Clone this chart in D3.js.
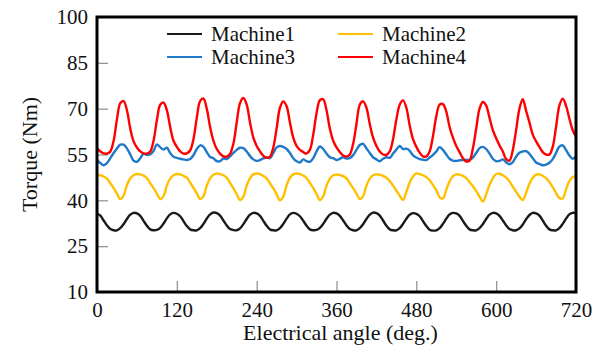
<!DOCTYPE html>
<html>
<head>
<meta charset="utf-8">
<script src="https://cdn.jsdelivr.net/npm/d3@7"></script>
<style>
  html, body { margin: 0; padding: 0; background: #fff; }
  svg { display: block; }
  text { font-family: "Liberation Serif", "Times New Roman", serif; fill: #111; }
</style>
</head>
<body>
<svg id="chart" width="594" height="348"></svg>
<script>
// Electrical angle samples (deg), one every 5 degrees over two electrical periods
const angles = d3.range(0, 721, 5);

// Torque (Nm) of each machine at the sampled angles, one row per 60 deg
const machine1 = [
  35.7, 35.0, 33.4, 31.8, 30.6, 30.2, 30.2, 30.9, 32.2, 33.9, 35.3, 35.9,
  35.7, 34.9, 33.3, 31.7, 30.5, 30.2, 30.3, 31.0, 32.4, 34.1, 35.4, 35.9,
  35.6, 34.8, 33.2, 31.6, 30.5, 30.2, 30.2, 30.9, 32.3, 34.0, 35.4, 36.0,
  35.8, 35.0, 33.4, 31.8, 30.6, 30.3, 30.2, 30.8, 32.2, 33.9, 35.3, 35.9,
  35.7, 34.9, 33.3, 31.7, 30.5, 30.2, 30.2, 30.9, 32.3, 34.0, 35.4, 35.9,
  35.6, 34.8, 33.3, 31.7, 30.5, 30.2, 30.3, 31.0, 32.3, 34.0, 35.3, 35.9,
  35.7, 34.9, 33.4, 31.8, 30.6, 30.2, 30.2, 30.9, 32.2, 33.9, 35.3, 36.0,
  35.8, 35.0, 33.4, 31.7, 30.5, 30.2, 30.2, 30.9, 32.3, 34.0, 35.3, 35.8,
  35.6, 34.8, 33.2, 31.6, 30.4, 30.1, 30.2, 30.9, 32.3, 34.0, 35.4, 35.9,
  35.7, 34.9, 33.3, 31.7, 30.5, 30.2, 30.2, 30.9, 32.2, 33.9, 35.3, 35.9,
  35.7, 34.9, 33.4, 31.8, 30.6, 30.2, 30.2, 30.8, 32.1, 33.8, 35.2, 35.9,
  35.7, 35.0, 33.4, 31.7, 30.5, 30.2, 30.2, 30.9, 32.3, 34.0, 35.4, 35.9,
  35.8
];

const machine2 = [
  48.3, 48.2, 47.8, 47.1, 45.6, 44.0, 42.2, 40.4, 41.5, 45.0, 47.2, 48.2,
  48.6, 48.5, 48.1, 47.3, 45.6, 44.0, 42.2, 40.4, 41.4, 44.8, 47.1, 48.2,
  48.6, 48.5, 48.0, 47.4, 45.8, 44.1, 42.3, 40.4, 41.3, 44.8, 47.2, 48.4,
  48.8, 48.6, 48.2, 47.4, 45.7, 43.9, 42.0, 40.1, 41.2, 44.8, 47.3, 48.5,
  48.8, 48.6, 48.0, 47.2, 45.6, 43.9, 42.0, 40.0, 41.2, 44.9, 47.4, 48.5,
  48.8, 48.6, 48.1, 47.3, 45.7, 44.0, 42.1, 40.1, 41.3, 44.8, 47.1, 48.2,
  48.4, 48.3, 47.9, 47.2, 45.6, 44.0, 42.2, 40.4, 41.4, 44.8, 47.1, 48.2,
  48.5, 48.4, 48.0, 47.4, 46.3, 44.8, 43.2, 41.5, 40.1, 42.8, 45.8, 47.8,
  48.8, 48.6, 48.2, 47.6, 46.6, 45.0, 43.3, 41.0, 40.6, 43.5, 46.2, 47.9,
  48.5, 48.4, 48.0, 47.3, 46.0, 44.6, 43.0, 41.2, 39.6, 42.0, 45.0, 47.3,
  48.6, 48.7, 48.2, 47.4, 46.2, 44.5, 42.8, 41.2, 40.1, 42.5, 45.4, 47.4,
  48.4, 48.5, 48.0, 47.3, 46.0, 44.3, 42.4, 40.8, 40.6, 43.6, 46.3, 47.6,
  48.0
];

const machine3 = [
  53.3, 52.2, 51.5, 52.2, 53.8, 55.5, 57.0, 58.2, 58.2, 57.0, 55.0, 53.0,
  52.6, 53.8, 55.2, 54.9, 55.0, 56.2, 58.3, 57.4, 56.6, 57.2, 55.5, 54.3,
  53.9, 53.6, 53.4, 53.2, 53.5, 54.8, 56.8, 58.0, 57.5, 55.8, 54.2, 53.8,
  52.8, 52.8, 53.7, 53.5, 54.4, 55.5, 56.5, 57.2, 57.1, 56.0, 54.5, 53.4,
  52.9, 53.2, 53.7, 54.1, 53.8, 55.5, 57.3, 57.8, 57.5, 56.8, 55.5, 53.8,
  52.8, 52.4, 53.4, 52.8, 52.6, 53.8, 56.0, 57.6, 56.8, 55.3, 54.1, 53.8,
  53.2, 53.6, 54.1, 53.7, 53.8, 54.8, 56.5, 58.1, 58.5, 57.0, 55.5, 54.1,
  53.4, 52.8, 53.6, 54.1, 53.9, 55.3, 56.6, 57.8, 56.8, 56.9, 56.2, 54.7,
  54.0, 53.5, 53.3, 53.2, 54.0, 54.9, 56.0, 57.4, 56.5, 55.0, 53.6, 53.0,
  52.9, 53.1, 53.2, 53.2, 53.3, 54.0, 55.5, 57.1, 57.5, 56.8, 55.3, 53.6,
  52.8, 52.9, 53.4, 52.4, 51.8, 52.5, 54.3, 55.6, 56.0, 56.1, 55.2, 53.8,
  52.4, 51.9, 51.5, 51.7, 52.3, 53.5, 55.5, 57.6, 58.0, 56.5, 54.7, 53.6,
  54.3
];

const machine4 = [
  57.0, 56.0, 55.4, 55.3, 56.0, 59.5, 66.5, 71.8, 72.5, 69.5, 63.5, 59.3,
  57.3, 56.0, 55.4, 55.3, 56.0, 59.5, 66.2, 71.3, 72.0, 69.5, 64.0, 59.5,
  57.5, 56.0, 55.3, 55.4, 56.3, 60.0, 67.0, 72.5, 73.3, 70.0, 64.0, 59.5,
  56.8, 55.3, 54.4, 54.3, 55.2, 58.5, 65.5, 71.8, 73.5, 71.3, 65.5, 60.5,
  57.8, 56.0, 54.6, 53.9, 54.3, 57.3, 63.5, 70.3, 72.4, 70.8, 65.5, 60.5,
  57.8, 56.5, 55.8, 55.3, 56.5, 61.5, 68.5, 72.8, 73.1, 69.5, 63.5, 59.5,
  57.3, 55.8, 54.7, 54.3, 55.0, 58.5, 65.0, 71.3, 72.4, 70.3, 65.0, 60.5,
  57.8, 56.0, 55.0, 54.9, 56.0, 60.0, 66.5, 71.3, 72.7, 70.3, 64.5, 60.0,
  57.5, 55.6, 54.4, 54.4, 56.0, 61.0, 67.5, 71.3, 71.5, 69.0, 64.0, 60.5,
  57.8, 55.8, 53.8, 52.7, 53.0, 57.0, 63.5, 70.0, 72.2, 71.0, 67.0, 63.0,
  60.3, 58.0, 56.0, 53.5, 53.0, 56.5, 63.0, 70.0, 73.1, 69.3, 65.5, 61.5,
  59.3, 57.5, 55.8, 55.0, 55.0, 57.5, 64.0, 71.0, 73.3, 71.0, 66.8, 63.0,
  60.8
];

const seriesNames = ["Machine1", "Machine2", "Machine3", "Machine4"];
const seriesColors = ["#1a1a1a", "#FFC000", "#1f78c8", "#FF0000"];
const seriesValues = [machine1, machine2, machine3, machine4];

const xTicks = [0, 120, 240, 360, 480, 600, 720];
const yTicks = [10, 25, 40, 55, 70, 85, 100];

const svg = d3.select("#chart");
const plot = { left: 97, right: 576, top: 17, bottom: 292 };

const x = d3.scaleLinear().domain([0, 720]).range([plot.left, plot.right]);
const y = d3.scaleLinear().domain([10, 100]).range([plot.bottom, plot.top]);

svg.append("rect").attr("width", 594).attr("height", 348).attr("fill", "#fff");

svg.append("defs").append("clipPath").attr("id", "plotClip")
  .append("rect")
  .attr("x", plot.left).attr("y", plot.top)
  .attr("width", plot.right - plot.left).attr("height", plot.bottom - plot.top);

// Axes: short grey ticks pointing into the plot
const yAxis = svg.append("g")
  .attr("transform", `translate(${plot.left},0)`)
  .call(d3.axisLeft(y).tickValues(yTicks).tickSize(-11).tickPadding(9));
const xAxis = svg.append("g")
  .attr("transform", `translate(0,${plot.bottom})`)
  .call(d3.axisBottom(x).tickValues(xTicks).tickSize(-11).tickPadding(10));

[xAxis, yAxis].forEach(g => {
  g.select(".domain").remove();
  g.selectAll(".tick line").attr("stroke", "#8c8c8c").attr("stroke-width", 1.2);
  g.selectAll(".tick text")
    .style("font-family", '"Liberation Serif", "Times New Roman", serif')
    .style("font-size", "21px")
    .attr("fill", "#111");
});

// Torque curves
const line = d3.line()
  .x((d, i) => x(angles[i]))
  .y(d => y(d))
  .curve(d3.curveCatmullRom.alpha(0.5));

const curves = svg.append("g").attr("clip-path", "url(#plotClip)");
seriesValues.forEach((vals, k) => {
  curves.append("path")
    .datum(vals)
    .attr("d", line)
    .attr("fill", "none")
    .attr("stroke", seriesColors[k])
    .attr("stroke-width", 2.4)
    .attr("stroke-linejoin", "round");
});

// Plot frame
svg.append("rect")
  .attr("x", plot.left).attr("y", plot.top)
  .attr("width", plot.right - plot.left).attr("height", plot.bottom - plot.top)
  .attr("fill", "none").attr("stroke", "#000").attr("stroke-width", 3);

// Legend, two columns by two rows
const legendCols = [167, 338];
const legendRows = [34, 57];
const legend = svg.append("g");
seriesNames.forEach((name, k) => {
  const lx = legendCols[k % 2];
  const ly = legendRows[Math.floor(k / 2)];
  legend.append("line")
    .attr("x1", lx).attr("x2", lx + 35)
    .attr("y1", ly).attr("y2", ly)
    .attr("stroke", seriesColors[k]).attr("stroke-width", 2);
  legend.append("text")
    .attr("x", lx + 44).attr("y", ly + 7)
    .style("font-size", "21px")
    .text(name);
});

// Axis titles
svg.append("text")
  .attr("x", (plot.left + plot.right) / 2 + 4).attr("y", 340)
  .attr("text-anchor", "middle")
  .style("font-size", "22px")
  .text("Electrical angle (deg.)");

svg.append("text")
  .attr("transform", `translate(37,${(plot.top + plot.bottom) / 2}) rotate(-90)`)
  .attr("text-anchor", "middle")
  .style("font-size", "22px")
  .text("Torque (Nm)");
</script>
</body>
</html>
